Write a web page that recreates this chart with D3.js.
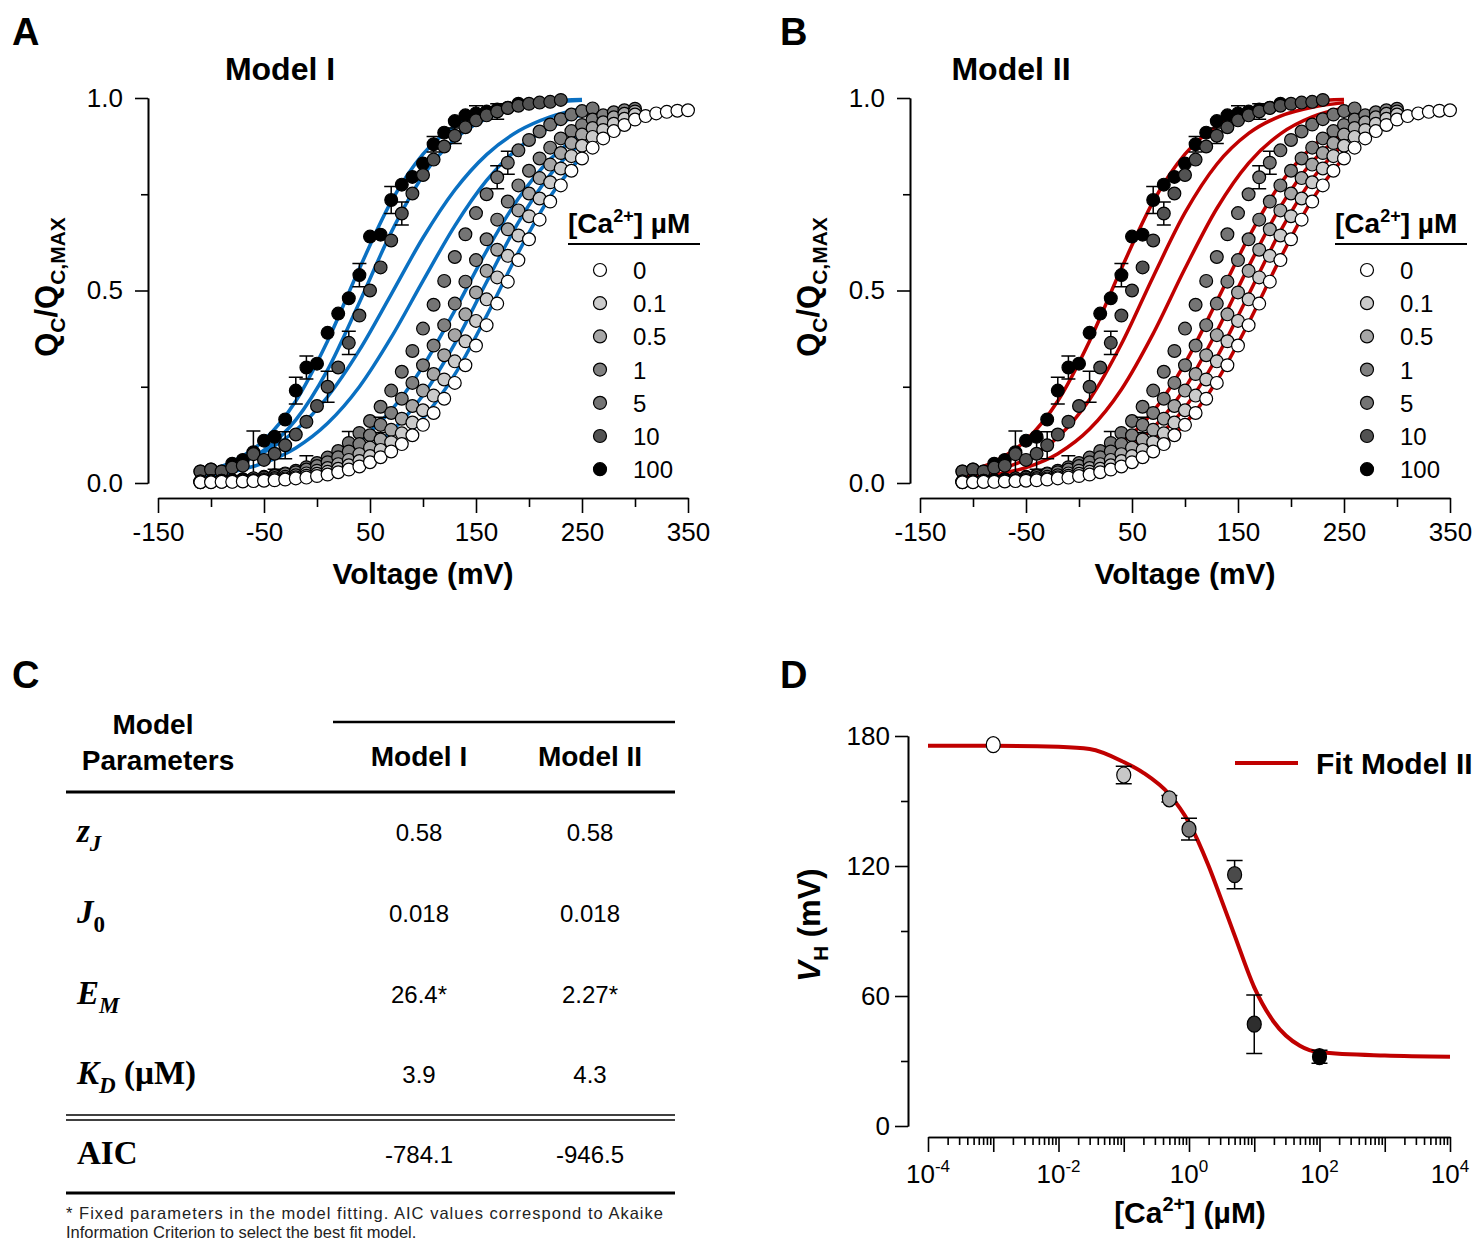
<!DOCTYPE html>
<html>
  <head>
    <meta charset="utf-8" />
    <title>Ca2+ dependence of QV curves</title>
    <style>
      body { margin: 0; background: #fff; }
      svg { font-family: 'Liberation Sans', Arial, sans-serif; }
      .axis path, .axis line { stroke: #000; stroke-width: 1.6px; }
      .axis .tick text { font-family: 'Liberation Sans', Arial, sans-serif; font-size: 26px; fill: #000; }
      .bold { font-weight: bold; }
      .serif { font-family: 'Liberation Serif', 'DejaVu Serif', serif; font-weight: bold; }
    </style>
    <script src="https://d3js.org/d3.v7.min.js"></script>
  </head>
  <body>
    <svg width="1480" height="1241"></svg>
    <script>
      var svg = d3.select('svg')

      // test pulse voltages (mV)
      var volts = [-110,-100,-90,-80,-70,-60,-50,-40,-30,-20,-10,0,10,20,30,40,50,60,70,80,90,100,110,120,130,140,150,160,170,180,190,200,210,220,230,240,250,260,270,280,290,300,310,320,330,340,350]

      // normalized charge QC/QC,MAX for each [Ca2+]
      var qv0 = [0.002,0.002,0.003,0.003,0.004,0.005,0.006,0.007,0.009,0.012,0.014,0.018,0.022,0.028,0.035,0.043,0.054,0.067,0.082,0.101,0.124,0.151,0.182,0.219,0.26,0.306,0.357,0.41,0.466,0.523,0.579,0.633,0.684,0.731,0.773,0.811,0.843,0.871,0.895,0.914,0.93,0.944,0.953,0.96,0.964,0.967,0.968]
      var qv01 = [0.002,0.003,0.003,0.004,0.005,0.006,0.008,0.010,0.012,0.015,0.019,0.024,0.029,0.037,0.046,0.057,0.07,0.086,0.106,0.129,0.157,0.189,0.227,0.269,0.316,0.368,0.421,0.477,0.534,0.59,0.643,0.693,0.739,0.781,0.817,0.849,0.876,0.899,0.917,0.933,0.946,0.957]
      var qv05 = [0.003,0.003,0.004,0.005,0.007,0.008,0.010,0.013,0.016,0.020,0.025,0.032,0.039,0.049,0.06,0.075,0.092,0.113,0.138,0.167,0.2,0.24,0.283,0.332,0.384,0.438,0.495,0.551,0.606,0.659,0.708,0.752,0.792,0.827,0.857,0.883,0.905,0.922,0.937,0.95,0.959,0.965]
      var qv1 = [0.004,0.005,0.006,0.007,0.009,0.012,0.014,0.018,0.023,0.028,0.035,0.044,0.054,0.067,0.082,0.101,0.124,0.151,0.182,0.219,0.26,0.306,0.357,0.41,0.466,0.523,0.579,0.633,0.684,0.731,0.773,0.811,0.843,0.871,0.895,0.914,0.93,0.944,0.955,0.963,0.968,0.972]
      var qv5 = [0.004,0.005,0.006,0.007,0.01,0.012,0.016,0.02,0.025,0.032,0.041,0.052,0.066,0.083,0.104,0.13,0.161,0.198,0.24,0.289,0.343,0.401,0.463,0.525,0.587,0.646,0.701,0.75,0.794,0.832,0.864,0.891,0.913,0.931,0.945,0.957,0.966,0.973]
      var qv10 = [0.03,0.035,0.03,0.04,0.045,0.075,0.06,0.076,0.098,0.126,0.159,0.2,0.25,0.30,0.364,0.435,0.5,0.56,0.63,0.70,0.752,0.80,0.84,0.874,0.902,0.924,0.942,0.955,0.965,0.974,0.98,0.985,0.988,0.99,0.995]
      var qv100 = [0.03,0.035,0.03,0.05,0.06,0.08,0.11,0.12,0.165,0.24,0.30,0.31,0.39,0.44,0.48,0.54,0.64,0.645,0.735,0.775,0.795,0.83,0.88,0.91,0.94,0.955,0.96,0.965,0.97,0.975,0.985]

      // [voltage, s.e.m.] where a bar is drawn
      var err0 = []
      var err01 = []
      var err05 = []
      var err1 = [[60,0.02]]
      var err5 = [[-10,0.03],[30,0.03],[170,0.03],[180,0.03]]
      var err10 = [[-60,0.06],[-40,0.04],[-30,0.035],[10,0.04],[30,0.03],[80,0.03],[130,0.02],[170,0.02]]
      var err100 = [[-20,0.035],[-10,0.03],[40,0.03],[70,0.035],[110,0.02],[150,0.02]]

      var concs = ['0', '0.1', '0.5', '1', '5', '10', '100']
      var fills = ['#ffffff', '#cbcbcb', '#a6a6a6', '#808080', '#747474', '#525252', '#000000']

      // fitted curves, sampled at these voltages
      var fitVolts = [-110,-80,-50,-20,10,40,70,100,130,160,190,220,250]
      var fitI0 = [0.002,0.004,0.007,0.014,0.027,0.051,0.094,0.168,0.282,0.434,0.599,0.744,0.85]
      var fitI01 = [0.003,0.006,0.011,0.021,0.04,0.074,0.134,0.228,0.362,0.522,0.677,0.801,0.885]
      var fitI05 = [0.005,0.01,0.019,0.035,0.063,0.111,0.189,0.303,0.448,0.603,0.739,0.841,0.908]
      var fitI1 = [0.016,0.029,0.052,0.091,0.155,0.25,0.378,0.525,0.668,0.786,0.87,0.924,0.957]
      var fitI5 = [0.026,0.046,0.08,0.137,0.224,0.345,0.49,0.637,0.761,0.853,0.914,0.951,0.972]
      var fitI10 = [0.02,0.042,0.085,0.164,0.294,0.469,0.651,0.798,0.893,0.947,0.974,0.988,0.994]
      var fitI100 = [0.026,0.055,0.111,0.213,0.369,0.557,0.731,0.854,0.927,0.965,0.983,0.992,0.996]

      var fitII0 = [0.002,0.003,0.006,0.012,0.023,0.044,0.084,0.154,0.265,0.416,0.584,0.736,0.846]
      var fitII01 = [0.002,0.004,0.008,0.016,0.031,0.059,0.11,0.196,0.326,0.489,0.654,0.789,0.881]
      var fitII05 = [0.003,0.006,0.011,0.021,0.041,0.078,0.143,0.247,0.394,0.562,0.717,0.834,0.909]
      var fitII1 = [0.004,0.008,0.015,0.029,0.055,0.104,0.186,0.311,0.472,0.638,0.777,0.873,0.932]
      var fitII5 = [0.011,0.021,0.04,0.076,0.14,0.243,0.388,0.557,0.713,0.831,0.907,0.951,0.974]
      var fitII10 = [0.016,0.031,0.062,0.119,0.217,0.361,0.536,0.702,0.828,0.908,0.953,0.976,0.988]
      var fitII100 = [0.026,0.055,0.111,0.213,0.369,0.557,0.731,0.854,0.927,0.965,0.983,0.992,0.996]

      // panel D: half-activation voltage vs [Ca2+]
      var dConc = [0.001, 0.1, 0.5, 1, 5, 10, 100]
      var dVH = [176, 162, 151, 137, 116, 47, 32]
      var dErr = [0, 4, 1.5, 5, 6.5, 13.5, 3]
      var dFills = ['#ffffff', '#c8c8c8', '#a3a3a3', '#7a7a7a', '#4a4a4a', '#2e2e2e', '#000000']
      var fitConc = [1e-4, 1e-3, 0.01, 0.03, 0.1, 0.2, 0.5, 1, 2, 3, 5, 10, 20, 50, 100, 1000, 10000]
      var fitVH = [175.5, 175.5, 175, 174, 168, 163, 153, 140, 120, 106, 88, 64, 48, 37, 34, 32.5, 32]

      // panel C table
      var modelIvals = ['0.58', '0.018', '26.4*', '3.9', '-784.1']
      var modelIIvals = ['0.58', '0.018', '2.27*', '4.3', '-946.5']

      var qvData = [qv0, qv01, qv05, qv1, qv5, qv10, qv100]
      var errData = [err0, err01, err05, err1, err5, err10, err100]
      var series = concs.map(function (c, i) {
        return { name: c, fill: fills[i], q: qvData[i], err: errData[i] }
      })

      function addText(x, y, txt, size, opts) {
        opts = opts || {}
        return svg.append('text').attr('x', x).attr('y', y)
          .attr('text-anchor', opts.anchor || 'start')
          .attr('class', opts.cls || null)
          .style('font-size', size + 'px')
          .text(txt)
      }

      function qvPanel(left, fits, color, title, titleX, legendX) {
        var x = d3.scaleLinear().domain([-150, 350]).range([left, left + 530])
        var y = d3.scaleLinear().domain([0, 1]).range([483, 98])
        var yAxisX = left - 10

        svg.append('g').attr('class', 'axis').attr('transform', 'translate(' + yAxisX + ',0)')
          .call(d3.axisLeft(y).tickValues([0, 0.5, 1]).tickSize(13).tickSizeOuter(0).tickPadding(12).tickFormat(d3.format('.1f')))
        svg.append('g').attr('class', 'axis').attr('transform', 'translate(' + yAxisX + ',0)')
          .call(d3.axisLeft(y).tickValues([0.25, 0.75]).tickSize(7).tickSizeOuter(0).tickFormat(''))
        svg.append('g').attr('class', 'axis').attr('transform', 'translate(0,498)')
          .call(d3.axisBottom(x).tickValues([-150, -50, 50, 150, 250, 350]).tickSize(15).tickSizeOuter(0).tickPadding(10)
            .tickFormat(function (d) { return String(d) }))
        svg.append('g').attr('class', 'axis').attr('transform', 'translate(0,498)')
          .call(d3.axisBottom(x).tickValues([-100, 0, 100, 200, 300]).tickSize(9).tickSizeOuter(0).tickFormat(''))

        // fitted curves
        var line = d3.line()
          .x(function (d) { return x(d[0]) })
          .y(function (d) { return y(d[1]) })
          .curve(d3.curveMonotoneX)
        svg.append('g').selectAll('path').data(fits).enter().append('path')
          .attr('d', function (f) {
            return line(fitVolts.map(function (v, i) { return [v, f[i]] }))
          })
          .attr('fill', 'none').attr('stroke', color).attr('stroke-width', 3.5)

        // data, 100 uM first so the 0 Ca points end on top
        series.slice().reverse().forEach(function (s) {
          var g = svg.append('g')
          g.selectAll('path').data(s.err).enter().append('path')
            .attr('d', function (e) {
              var q = s.q[volts.indexOf(e[0])]
              var cx = x(e[0]), y1 = y(q + e[1]), y2 = y(q - e[1])
              return 'M' + cx + ',' + y1 + 'V' + y2 +
                'M' + (cx - 7) + ',' + y1 + 'H' + (cx + 7) +
                'M' + (cx - 7) + ',' + y2 + 'H' + (cx + 7)
            })
            .attr('fill', 'none').attr('stroke', '#000').attr('stroke-width', 1.5)
          g.selectAll('circle').data(s.q).enter().append('circle')
            .attr('cx', function (d, i) { return x(volts[i]) })
            .attr('cy', function (d) { return y(d) })
            .attr('r', 6.4)
            .attr('fill', s.fill).attr('stroke', '#000').attr('stroke-width', 1.2)
        })

        // labels
        addText(titleX, 80, title, 32, { anchor: 'middle', cls: 'bold' })
        addText(left + 265, 584, 'Voltage (mV)', 30, { anchor: 'middle', cls: 'bold' })
        var yl = svg.append('text').attr('class', 'bold')
          .attr('transform', 'translate(' + (left - 101) + ',287) rotate(-90)')
          .attr('text-anchor', 'middle').style('font-size', '31px')
        yl.append('tspan').text('Q')
        yl.append('tspan').attr('dy', 8).style('font-size', '21px').text('C')
        yl.append('tspan').attr('dy', -8).text('/Q')
        yl.append('tspan').attr('dy', 8).style('font-size', '21px').text('C,MAX')

        // legend
        var lt = svg.append('text').attr('x', legendX).attr('y', 233).attr('class', 'bold').style('font-size', '28px')
        lt.append('tspan').text('[Ca')
        lt.append('tspan').attr('dy', -11).style('font-size', '18px').text('2+')
        lt.append('tspan').attr('dy', 11).text('] \u00b5M')
        svg.append('line').attr('x1', legendX).attr('x2', legendX + 132).attr('y1', 244).attr('y2', 244)
          .attr('stroke', '#000').attr('stroke-width', 2)
        var leg = svg.append('g').selectAll('g').data(series).enter().append('g')
          .attr('transform', function (d, i) { return 'translate(' + (legendX + 32) + ',' + (270 + i * 33.2) + ')' })
        leg.append('circle').attr('r', 6.5).attr('fill', function (d) { return d.fill })
          .attr('stroke', '#000').attr('stroke-width', 1.2)
        leg.append('text').attr('x', 33).attr('y', 9).style('font-size', '24px').text(function (d) { return d.name })
      }

      qvPanel(158, [fitI0, fitI01, fitI05, fitI1, fitI5, fitI10, fitI100], '#0a70c2', 'Model I', 280, 568)
      qvPanel(920, [fitII0, fitII01, fitII05, fitII1, fitII5, fitII10, fitII100], '#c00000', 'Model II', 1011, 1335)

      // panel letters
      addText(12, 45, 'A', 38, { cls: 'bold' })
      addText(780, 45, 'B', 38, { cls: 'bold' })
      addText(12, 688, 'C', 38, { cls: 'bold' })
      addText(780, 688, 'D', 38, { cls: 'bold' })

      // ---- panel C: table ----
      var tl = function (x1, x2, y, w) {
        svg.append('line').attr('x1', x1).attr('x2', x2).attr('y1', y).attr('y2', y)
          .attr('stroke', '#000').attr('stroke-width', w)
      }
      tl(333, 675, 722, 2.5)
      tl(66, 675, 792, 3)
      tl(66, 675, 1115, 1.5)
      tl(66, 675, 1120, 1.5)
      tl(66, 675, 1193, 3)
      addText(153, 734, 'Model', 28, { anchor: 'middle', cls: 'bold' })
      addText(158, 770, 'Parameters', 28, { anchor: 'middle', cls: 'bold' })
      addText(419, 766, 'Model I', 28, { anchor: 'middle', cls: 'bold' })
      addText(590, 766, 'Model II', 28, { anchor: 'middle', cls: 'bold' })

      var rowY = [842, 923, 1004, 1084, 1164]
      var rowLabels = [
        [['z', 'i'], ['J', 'si']],
        [['J', 'i'], ['0', 's']],
        [['E', 'i'], ['M', 'si']],
        [['K', 'i'], ['D', 'si'], [' (\u00b5M)', '']],
        [['AIC', '']]
      ]
      rowLabels.forEach(function (parts, r) {
        var t = svg.append('text').attr('x', 77).attr('y', rowY[r]).attr('class', 'serif').style('font-size', '33px')
        var down = false
        parts.forEach(function (p) {
          var ts = t.append('tspan').text(p[0])
          if (p[1].indexOf('i') >= 0) ts.style('font-style', 'italic')
          if (p[1].indexOf('s') >= 0) {
            ts.attr('dy', 9).style('font-size', '23px')
            down = true
          } else if (down) {
            ts.attr('dy', -9)
            down = false
          }
        })
      })
      svg.append('g').selectAll('text').data(modelIvals).enter().append('text')
        .attr('x', 419).attr('y', function (d, i) { return rowY[i] - 1 })
        .attr('text-anchor', 'middle').style('font-size', '24px').text(function (d) { return d })
      svg.append('g').selectAll('text').data(modelIIvals).enter().append('text')
        .attr('x', 590).attr('y', function (d, i) { return rowY[i] - 1 })
        .attr('text-anchor', 'middle').style('font-size', '24px').text(function (d) { return d })
      addText(66, 1219, '* Fixed parameters in the model fitting. AIC values correspond to Akaike', 16.5)
        .attr('textLength', 597).attr('lengthAdjust', 'spacing').style('fill', '#222')
      addText(66, 1238, 'Information Criterion to select the best fit model.', 16.5).style('fill', '#222')

      // ---- panel D ----
      var xd = d3.scaleLog().domain([1e-4, 1e4]).range([928, 1450])
      var yd = d3.scaleLinear().domain([0, 180]).range([1126, 736])

      svg.append('g').attr('class', 'axis').attr('transform', 'translate(908,0)')
        .call(d3.axisLeft(yd).tickValues([0, 60, 120, 180]).tickSize(13).tickSizeOuter(0).tickPadding(5))
      svg.append('g').attr('class', 'axis').attr('transform', 'translate(908,0)')
        .call(d3.axisLeft(yd).tickValues([30, 90, 150]).tickSize(7).tickSizeOuter(0).tickFormat(''))

      var decades = d3.range(-4, 5).map(function (p) { return Math.pow(10, p) })
      var minors = []
      decades.slice(0, -1).forEach(function (d) {
        for (var k = 2; k < 10; k++) minors.push(d * k)
      })
      svg.append('g').attr('class', 'axis').attr('transform', 'translate(0,1137)')
        .call(d3.axisBottom(xd).tickValues(decades).tickSize(15).tickSizeOuter(0).tickFormat(''))
      svg.append('g').attr('class', 'axis').attr('transform', 'translate(0,1137)')
        .call(d3.axisBottom(xd).tickValues(minors).tickSize(8).tickSizeOuter(0).tickFormat(''))

      var labPows = [-4, -2, 0, 2, 4]
      var xl = svg.append('g').selectAll('text').data(labPows).enter().append('text')
        .attr('x', function (p) { return xd(Math.pow(10, p)) })
        .attr('y', 1183).attr('text-anchor', 'middle').style('font-size', '26px')
      xl.append('tspan').text('10')
      xl.append('tspan').attr('dy', -11).style('font-size', '17px').text(function (p) { return p })

      var dx = svg.append('text').attr('x', 1190).attr('y', 1223).attr('text-anchor', 'middle')
        .attr('class', 'bold').style('font-size', '30px')
      dx.append('tspan').text('[Ca')
      dx.append('tspan').attr('dy', -12).style('font-size', '20px').text('2+')
      dx.append('tspan').attr('dy', 12).text('] (\u00b5M)')

      var dy = svg.append('text').attr('class', 'bold').attr('text-anchor', 'middle')
        .attr('transform', 'translate(820,925) rotate(-90)').style('font-size', '31px')
      dy.append('tspan').style('font-style', 'italic').text('V')
      dy.append('tspan').attr('dy', 8).style('font-size', '21px').text('H')
      dy.append('tspan').attr('dy', -8).text(' (mV)')

      var dline = d3.line()
        .x(function (d, i) { return xd(d) })
        .y(function (d, i) { return yd(fitVH[i]) })
        .curve(d3.curveMonotoneX)
      svg.append('path').attr('d', dline(fitConc))
        .attr('fill', 'none').attr('stroke', '#c00000').attr('stroke-width', 4)

      svg.append('g').selectAll('path').data(dConc).enter().append('path')
        .attr('d', function (c, i) {
          if (!dErr[i]) return null
          var cx = xd(c), y1 = yd(dVH[i] + dErr[i]), y2 = yd(dVH[i] - dErr[i])
          return 'M' + cx + ',' + y1 + 'V' + y2 +
            'M' + (cx - 8) + ',' + y1 + 'H' + (cx + 8) +
            'M' + (cx - 8) + ',' + y2 + 'H' + (cx + 8)
        })
        .attr('fill', 'none').attr('stroke', '#000').attr('stroke-width', 1.5)
      svg.append('g').selectAll('ellipse').data(dConc).enter().append('ellipse')
        .attr('cx', function (c) { return xd(c) })
        .attr('cy', function (c, i) { return yd(dVH[i]) })
        .attr('rx', 7).attr('ry', 8)
        .attr('fill', function (c, i) { return dFills[i] })
        .attr('stroke', '#000').attr('stroke-width', 1.2)

      svg.append('line').attr('x1', 1235).attr('x2', 1298).attr('y1', 763).attr('y2', 763)
        .attr('stroke', '#c00000').attr('stroke-width', 4)
      addText(1316, 774, 'Fit Model II', 30, { cls: 'bold' })
    </script>
  </body>
</html>
